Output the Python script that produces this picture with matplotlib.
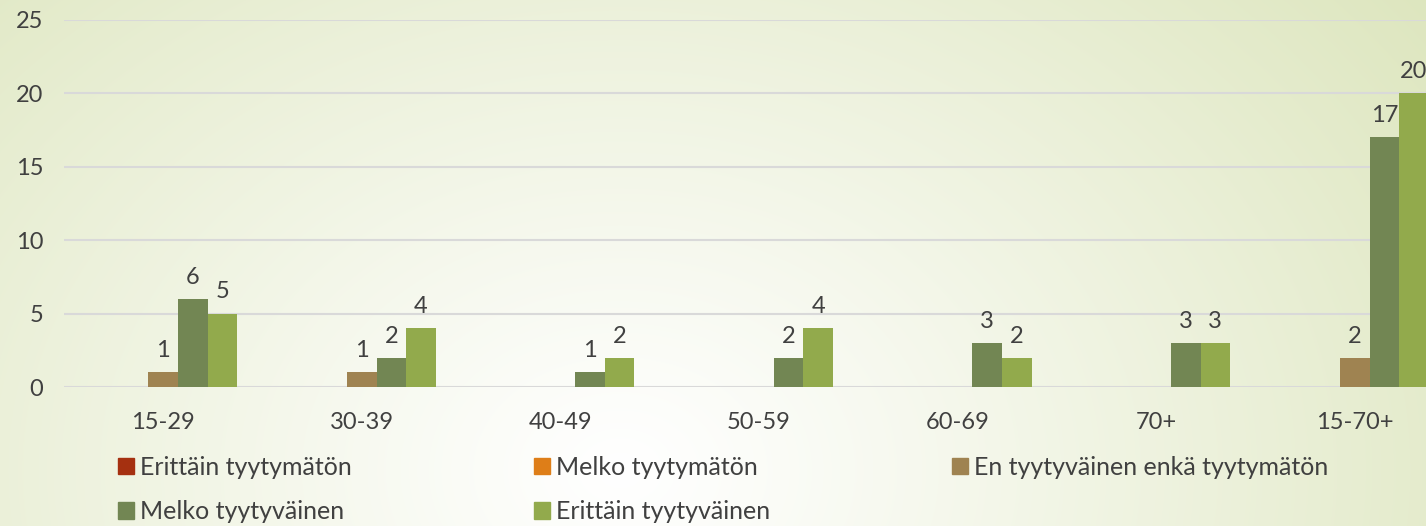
import numpy as np
from matplotlib import pyplot as plt
from matplotlib.patches import Patch

plt.rcParams['font.family'] = ['Lato', 'DejaVu Sans']

# data
ryhmat = ['15-29', '30-39', '40-49', '50-59', '60-69', '70+', '15-70+']
sarjat = ['Erittäin tyytymätön', 'Melko tyytymätön',
          'En tyytyväinen enkä tyytymätön', 'Melko tyytyväinen',
          'Erittäin tyytyväinen']
erittain_tyytymaton = [0, 0, 0, 0, 0, 0, 0]
melko_tyytymaton = [0, 0, 0, 0, 0, 0, 0]
en_kumpikaan = [1, 1, 0, 0, 0, 0, 2]
melko_tyytyvainen = [6, 2, 1, 2, 3, 3, 17]
erittain_tyytyvainen = [5, 4, 2, 4, 2, 3, 20]
arvot = [erittain_tyytymaton, melko_tyytymaton, en_kumpikaan,
         melko_tyytyvainen, erittain_tyytyvainen]
varit = ['#A53010', '#DE7E18', '#9F8351', '#728653', '#92AA4C']
teksti = '#404040'

fig = plt.figure(figsize=(14.26, 5.26), dpi=100)

# tausta: liukuvari valkoisesta vihreaan
bg = fig.add_axes([0, 0, 1, 1], zorder=-10)
yy, xx = np.mgrid[0:526, 0:1426]
d = np.sqrt((xx - 620.0) ** 2 + ((yy - 470.0) * 1.3) ** 2)
t = np.clip(d / 1050.0, 0, 1) ** 1.1
vihrea = np.array([0xdc, 0xe5, 0xbc]) / 255.0
valk = np.array([1.0, 1.0, 1.0])
img = valk[None, None, :] * (1 - t[..., None]) + vihrea[None, None, :] * t[..., None]
bg.imshow(img, aspect='auto', extent=[0, 1, 0, 1], origin='upper')
bg.axis('off')

ax = fig.add_axes([64 / 1426, 139 / 526, 1390 / 1426, 367 / 526])
ax.set_facecolor('none')

x = np.arange(len(ryhmat))
w = 0.149
for i, (nimi, v, c) in enumerate(zip(sarjat, arvot, varit)):
    pos = x + (i - 2) * w
    bars = ax.bar(pos, v, w, color=c, label=nimi, zorder=3)
    for b, val in zip(bars, v):
        if val > 0:
            ax.annotate(str(val), (b.get_x() + b.get_width() / 2, val),
                        xytext=(0, 8), textcoords='offset points',
                        ha='center', va='bottom', fontsize=17,
                        color=teksti)

ax.set_xlim(-0.5, 6.5)
ax.set_ylim(0, 25)
ax.set_yticks([0, 5, 10, 15, 20, 25])
ax.set_xticks(x)
ax.set_xticklabels(ryhmat)
ax.yaxis.grid(True, color='#d9d9d9', lw=1.5, zorder=0)
ax.set_axisbelow(True)
for s in ax.spines.values():
    s.set_visible(False)
ax.tick_params(axis='both', length=0, labelsize=17, labelcolor=teksti)
ax.tick_params(axis='x', pad=18)
ax.tick_params(axis='y', pad=15)

# legenda rivi kerrallaan
jarj = [0, 3, 1, 4, 2]
kahvat = [Patch(color=varit[k]) for k in jarj]
nimet = [sarjat[k] for k in jarj]
fig.legend(kahvat, nimet, ncol=3, loc='upper left',
           bbox_to_anchor=(118 / 1426, 1 - 456 / 526), frameon=False,
           fontsize=18, labelcolor=teksti, handlelength=0.62,
           handleheight=0.62, handletextpad=0.25, columnspacing=7.3,
           labelspacing=0.85, borderaxespad=0, borderpad=0)

fig.savefig('out.png', dpi=100)
